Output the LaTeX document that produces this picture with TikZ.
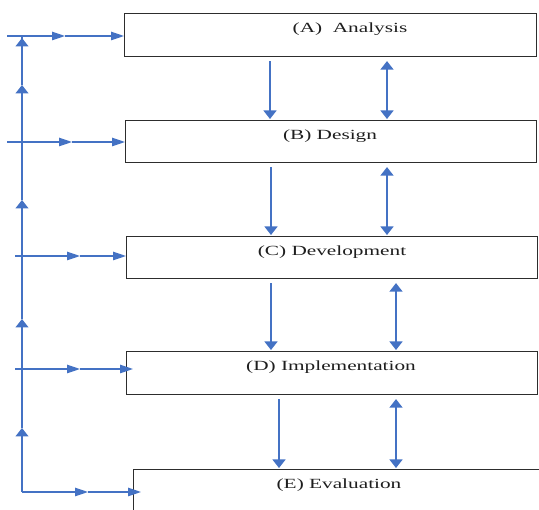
\documentclass[tikz,border=0pt]{standalone}
\usepackage{fontspec}
\setmainfont{Liberation Serif}
\usetikzlibrary{arrows.meta}
\usepackage{graphicx}
\definecolor{flowblue}{RGB}{68,114,196}
\definecolor{boxgray}{RGB}{45,45,45}
\definecolor{txtgray}{RGB}{30,30,30}
\newcommand{\wtxt}[1]{\scalebox{1.52}[1]{\fontsize{14}{17}\selectfont #1}}
\begin{document}
\begin{tikzpicture}[x=1pt,y=-1pt,
  box/.style={draw=boxgray, line width=1.1pt, rectangle, inner sep=0pt, anchor=north west},
  lbl/.style={anchor=base, inner sep=0pt, text=txtgray},
  flow/.style={draw=flowblue, line width=1.2pt},
  harr/.style={flow, -{Triangle[width=8.5pt,length=13pt]}},
  varr/.style={flow, -{Triangle[width=13pt,length=8.5pt]}},
  dvarr/.style={flow, {Triangle[width=13pt,length=8.5pt]}-{Triangle[width=13pt,length=8.5pt]}},
  gap/.style={shorten <=4pt, shorten >=1pt}]
\clip (0,0) rectangle (539,510);
% boxes
\node[box, minimum width=412pt, minimum height=43pt] (A) at (124,13) {};
\node[box, minimum width=411pt, minimum height=42pt] (B) at (125,120) {};
\node[box, minimum width=411pt, minimum height=42pt] (C) at (126,236) {};
\node[box, minimum width=411pt, minimum height=43pt] (D) at (126,351) {};
\node[box, minimum width=420pt, minimum height=50pt] (E) at (133,469) {};
% labels
\node[lbl] (tA) at (350,33) {\wtxt{(A)\ \ Analysis}};
\node[lbl] (tB) at (330,140) {\wtxt{(B) Design}};
\node[lbl] (tC) at (332,256) {\wtxt{(C) Development}};
\node[lbl] (tD) at (331,371) {\wtxt{(D) Implementation}};
\node[lbl] (tE) at (339,489) {\wtxt{(E) Evaluation}};
% vertical arrows between boxes
\draw[varr,gap] (A.south -| 270,0) -- (B.north -| 270,0);
\draw[dvarr,gap] (A.south -| 387,0) -- (B.north -| 387,0);
\draw[varr,gap] (B.south -| 271,0) -- (C.north -| 271,0);
\draw[dvarr,gap] (B.south -| 387,0) -- (C.north -| 387,0);
\draw[varr,gap] (C.south -| 271,0) -- (D.north -| 271,0);
\draw[dvarr,gap] (C.south -| 396,0) -- (D.north -| 396,0);
\draw[varr,gap] (D.south -| 279,0) -- (E.north -| 279,0);
\draw[dvarr,gap] (D.south -| 396,0) -- (E.north -| 396,0);
% left feedback spine
\coordinate (corner) at (22,492);
\coordinate (u4) at (22,428);
\coordinate (u3) at (22,319);
\coordinate (u2) at (22,200);
\coordinate (u1) at (22,85);
\coordinate (top) at (22,36);
\draw[varr] (corner) -- (u4);
\draw[varr] (u4) -- (u3);
\draw[varr] (u3) -- (u2);
\draw[varr] (u2) -- (u1);
\draw[varr] (u1) -- ([yshift=-2pt]top);
\draw[flow] (u1) -- (top);
% horizontal feeds
\coordinate (sA) at (7,36);   \coordinate (mA) at (65,36);
\coordinate (sB) at (7,142);  \coordinate (mB) at (72,142);
\coordinate (sC) at (15,256); \coordinate (mC) at (80,256);
\coordinate (sD) at (15,369); \coordinate (mD) at (80,369);
\coordinate (mE) at (88,492);
\draw[harr] (sA) -- (mA); \draw[harr] (mA) -- (A.west |- mA);
\draw[harr] (sB) -- (mB); \draw[harr] (mB) -- (B.west |- mB);
\draw[harr] (sC) -- (mC); \draw[harr] (mC) -- (C.west |- mC);
\draw[harr] (sD) -- (mD); \draw[harr, shorten >=-7pt] (mD) -- (D.west |- mD);
\draw[harr] (corner) -- (mE); \draw[harr, shorten >=-8pt] (mE) -- (E.west |- mE);
\end{tikzpicture}
\end{document}
